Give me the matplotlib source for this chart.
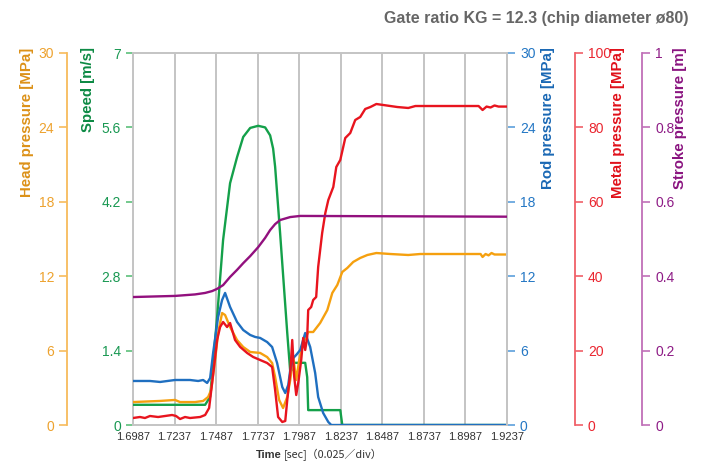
import matplotlib
matplotlib.use("Agg")
import matplotlib.pyplot as plt

plt.rcParams['font.family'] = ['Liberation Sans', 'Noto Sans CJK JP', 'DejaVu Sans']
NARROW = ['Liberation Sans Narrow', 'Liberation Sans']

# ---------------- data ----------------
x_ticks = [1.6987, 1.7237, 1.7487, 1.7737, 1.7987, 1.8237, 1.8487, 1.8737, 1.8987, 1.9237]

speed_t = [1.6987, 1.7240, 1.7421, 1.7451, 1.7493, 1.7529, 1.7571, 1.7613, 1.7650, 1.7692,
           1.7740, 1.7782, 1.7812, 1.7830, 1.7842, 1.7872, 1.7915, 1.7933, 1.7945, 1.7951,
           1.8023, 1.8035, 1.8041, 1.8234, 1.8246, 1.9237]
speed_v = [0.38, 0.38, 0.38, 0.53, 2.03, 3.48, 4.55, 5.04, 5.42, 5.59,
           5.63, 5.60, 5.45, 5.20, 4.86, 3.61, 1.73, 1.00, 1.05, 1.17,
           1.17, 0.90, 0.28, 0.28, 0.0, 0.0]

stroke_t = [1.6987, 1.7240, 1.7360, 1.7421, 1.7463, 1.7493, 1.7529, 1.7571, 1.7613, 1.7650,
            1.7692, 1.7740, 1.7782, 1.7812, 1.7842, 1.7872, 1.7933, 1.7993, 1.9237]
stroke_v = [0.344, 0.347, 0.351, 0.355, 0.360, 0.366, 0.376, 0.398, 0.417, 0.435,
            0.454, 0.478, 0.503, 0.524, 0.540, 0.551, 0.559, 0.562, 0.560]

rod_t = [1.6987, 1.7089, 1.7150, 1.7240, 1.7330, 1.7379, 1.7409, 1.7433, 1.7451, 1.7469,
         1.7499, 1.7523, 1.7541, 1.7571, 1.7613, 1.7650, 1.7692, 1.7722, 1.7752, 1.7794,
         1.7824, 1.7854, 1.7885, 1.7903, 1.7921, 1.7933, 1.7951, 1.7969, 1.7993, 1.8023,
         1.8053, 1.8083, 1.8101, 1.8131, 1.8162, 1.8180, 1.9237]
rod_v = [3.55, 3.55, 3.47, 3.63, 3.63, 3.55, 3.63, 3.39, 3.79, 5.81,
         8.71, 10.08, 10.65, 9.52, 8.31, 7.66, 7.26, 7.10, 7.02, 6.69,
         6.29, 5.00, 3.06, 2.58, 3.23, 4.44, 5.40, 5.65, 6.05, 7.42,
         6.29, 4.19, 2.26, 0.97, 0.24, 0.0, 0.0]

head_t = [1.6987, 1.7150, 1.7240, 1.7270, 1.7360, 1.7409, 1.7439, 1.7457, 1.7481, 1.7499,
          1.7523, 1.7541, 1.7571, 1.7613, 1.7650, 1.7692, 1.7752, 1.7794, 1.7824, 1.7842,
          1.7866, 1.7890, 1.7915, 1.7933, 1.7951, 1.7969, 1.7987, 1.8011, 1.8041, 1.8071,
          1.8113, 1.8156, 1.8186, 1.8216, 1.8246, 1.8276, 1.8312, 1.8354, 1.8397, 1.8451,
          1.8535, 1.8643, 1.8715, 1.9078, 1.9090, 1.9108, 1.9126, 1.9144, 1.9162, 1.9237]
head_v = [1.85, 1.94, 2.02, 1.85, 1.85, 1.94, 2.26, 2.82, 5.24, 7.42,
          9.03, 8.87, 7.90, 6.85, 6.29, 5.89, 5.81, 5.48, 5.00, 3.87,
          2.02, 1.37, 2.26, 3.63, 5.48, 3.63, 5.24, 6.61, 7.50, 7.50,
          8.23, 9.27, 10.65, 11.29, 12.34, 12.66, 13.15, 13.47, 13.71, 13.87,
          13.79, 13.71, 13.79, 13.79, 13.55, 13.79, 13.68, 13.87, 13.75, 13.75]

metal_t = [1.6987, 1.7029, 1.7059, 1.7089, 1.7138, 1.7180, 1.7222, 1.7246, 1.7270, 1.7300,
           1.7330, 1.7391, 1.7421, 1.7445, 1.7463, 1.7493, 1.7511, 1.7529, 1.7553, 1.7571,
           1.7601, 1.7632, 1.7674, 1.7710, 1.7752, 1.7794, 1.7824, 1.7842, 1.7860, 1.7885,
           1.7903, 1.7915, 1.7933, 1.7945, 1.7957, 1.7969, 1.7981, 1.7999, 1.8011, 1.8023,
           1.8035, 1.8041, 1.8059, 1.8071, 1.8089, 1.8101, 1.8125, 1.8144, 1.8162, 1.8192,
           1.8210, 1.8234, 1.8264, 1.8294, 1.8324, 1.8354, 1.8384, 1.8415, 1.8451, 1.8493,
           1.8577, 1.8643, 1.8686, 1.8835, 1.9066, 1.9090, 1.9114, 1.9138, 1.9162, 1.9186,
           1.9237]
metal_v = [1.88, 2.15, 1.88, 2.42, 2.15, 2.42, 2.69, 2.42, 1.61, 2.15,
           1.88, 2.15, 2.69, 4.57, 11.29, 22.85, 26.34, 27.69, 26.34, 27.42,
           22.85, 20.97, 19.35, 18.28, 17.47, 16.67, 15.59, 9.41, 2.15, 0.81,
           1.08, 6.72, 13.98, 22.85, 12.90, 8.06, 11.29, 17.47, 23.39, 20.16,
           23.66, 30.91, 31.72, 33.60, 34.41, 42.47, 51.61, 56.99, 60.48, 63.98,
           69.35, 71.24, 77.15, 78.49, 81.99, 82.80, 84.95, 85.48, 86.29, 86.02,
           85.48, 85.22, 85.75, 85.75, 85.75, 84.68, 85.60, 85.35, 85.89, 85.60,
           85.60]

# ---------------- colours ----------------
C_HEAD, C_HEAD_TXT, C_HEAD_LBL, C_HEAD_AX = '#f5a00f', '#eda22e', '#dc9118', '#f7bb5c'
C_SPEED, C_SPEED_TXT, C_SPEED_AX = '#14a04a', '#199852', '#5cc07a'
C_ROD, C_ROD_TXT, C_ROD_AX = '#1f6fc0', '#2477c4', '#5c9fdc'
C_METAL, C_METAL_TXT, C_METAL_AX = '#e8141e', '#ea2630', '#f06068'
C_STROKE, C_STROKE_TXT, C_STROKE_AX = '#92107e', '#8e1c86', '#c070b8'
C_GRID = '#c4c4c4'

W, H = 715, 473
PX = 72 / 100  # points per pixel
fig = plt.figure(figsize=(W / 100, H / 100), dpi=100)
ax = fig.add_axes([133 / W, 48 / H, 374 / W, 372 / H])

TICKFONT = 10

# host axis = speed (left side)
ax.set_xlim(x_ticks[0], x_ticks[-1])
ax.set_ylim(0, 7)
ax.set_xticks(x_ticks)
ax.set_xticklabels([f"{v:.4f}" for v in x_ticks], family=NARROW, fontsize=8, color='#333333')
ax.tick_params(axis='x', length=0, pad=5)
ax.set_yticks([0, 1.4, 2.8, 4.2, 5.6, 7])
ax.set_yticklabels(['0', '1.4', '2.8', '4.2', '5.6', '7'], family=NARROW, fontsize=TICKFONT,
                   color=C_SPEED_TXT)
ax.tick_params(axis='y', colors=C_SPEED_AX, labelcolor=C_SPEED_TXT, length=7 * PX, width=1.2,
               pad=5 * PX)
ax.grid(axis='x', color=C_GRID, lw=1.4)
for s in ax.spines.values():
    s.set_color(C_GRID)
    s.set_linewidth(1.4)


def make_twin(side, offset_px, ylim, ticks, labels, ax_col, txt_col):
    t = ax.twinx()
    t.set_ylim(*ylim)
    for s in t.spines.values():
        s.set_visible(False)
    sp = t.spines[side]
    sp.set_visible(True)
    if offset_px:
        sp.set_position(('outward', offset_px * PX))
        sp.set_color(ax_col)
        sp.set_linewidth(1.3)
    else:
        sp.set_color(C_GRID)
        sp.set_linewidth(1.4)
    t.yaxis.set_ticks_position(side)
    t.set_yticks(ticks)
    t.set_yticklabels(labels, family=NARROW, fontsize=TICKFONT, color=txt_col)
    t.tick_params(axis='y', colors=ax_col, labelcolor=txt_col, length=8 * PX, width=1.2,
                  pad=5 * PX)
    t.patch.set_visible(False)
    return t


ax_head = make_twin('left', 66, (0, 30), [0, 6, 12, 18, 24, 30],
                    ['0', '6', '12', '18', '24', '30'], C_HEAD_AX, C_HEAD_TXT)
ax_rod = make_twin('right', 0, (0, 30), [0, 6, 12, 18, 24, 30],
                   ['0', '6', '12', '18', '24', '30'], C_ROD_AX, C_ROD_TXT)
ax_metal = make_twin('right', 68, (0, 100), [0, 20, 40, 60, 80, 100],
                     ['0', '20', '40', '60', '80', '100'], C_METAL_AX, C_METAL_TXT)
ax_stroke = make_twin('right', 135, (0, 1), [0, 0.2, 0.4, 0.6, 0.8, 1],
                      ['0', '0.2', '0.4', '0.6', '0.8', '1'], C_STROKE_AX, C_STROKE_TXT)

lw = 1.7
ax_stroke.plot(stroke_t, stroke_v, color=C_STROKE, lw=lw)
ax_rod.plot(rod_t, rod_v, color=C_ROD, lw=lw)
ax.plot(speed_t, speed_v, color=C_SPEED, lw=lw, zorder=3)
ax_head.plot(head_t, head_v, color=C_HEAD, lw=lw)
ax_metal.plot(metal_t, metal_v, color=C_METAL, lw=lw)

# axis titles (rotated, top aligned)
lbl = dict(rotation=90, ha='center', va='top', fontsize=10.8, fontweight='bold')
fig.text(27 / W, 1 - 48 / H, 'Head pressure [MPa]', color=C_HEAD_LBL, **lbl)
fig.text(88 / W, 1 - 47 / H, 'Speed [m/s]', color='#0d8a44', **lbl)
fig.text(548 / W, 1 - 47 / H, 'Rod pressure [MPa]', color='#1a68b4', **lbl)
fig.text(618 / W, 1 - 47 / H, 'Metal pressure [MPa]', color='#e0101a', **lbl)
fig.text(680 / W, 1 - 47 / H, 'Stroke pressure [m]', color='#8a1480', **lbl)

fig.text(688 / W, 1 - 18 / H, 'Gate ratio KG = 12.3 (chip diameter ø80)',
         ha='right', va='center', fontsize=11.5, fontweight='bold', color='#666666')

fig.text(282 / W, 1 - 455 / H, 'Time', ha='right', va='center', fontsize=8,
         fontweight='bold', color='#333333')
fig.text(284 / W, 1 - 455 / H, '[sec]（0.025／div）', ha='left', va='center', fontsize=7.8,
         color='#333333', family=['Noto Sans CJK JP', 'DejaVu Sans'])

fig.savefig('out.png', dpi=100)
